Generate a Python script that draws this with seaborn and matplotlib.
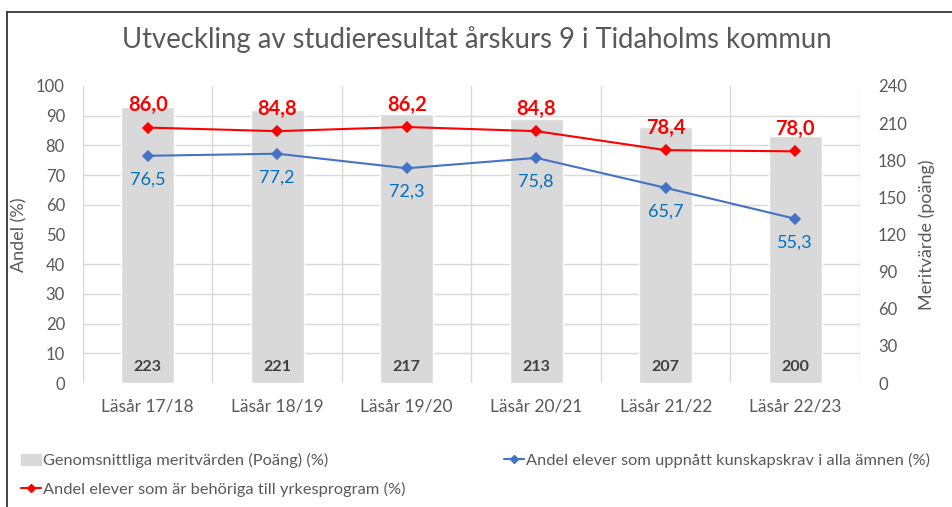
import matplotlib
matplotlib.use("Agg")
import numpy as np
import matplotlib.pyplot as plt
import seaborn as sns
from matplotlib.patches import Patch
from matplotlib.lines import Line2D

# ── Data ───────────────────────────────────────────────────
years        = ["Läsår 17/18", "Läsår 18/19", "Läsår 19/20",
                "Läsår 20/21", "Läsår 21/22", "Läsår 22/23"]
meritvarde   = [223, 221, 217, 213, 207, 200]
kunskapskrav = [76.5, 77.2, 72.3, 75.8, 65.7, 55.3]
behoriga     = [86.0, 84.8, 86.2, 84.8, 78.4, 78.0]

BAR_LABEL  = "Genomsnittliga meritvärden (Poäng) (%)"
BLUE_LABEL = "Andel elever som uppnått kunskapskrav i alla ämnen (%)"
RED_LABEL  = "Andel elever som är behöriga till yrkesprogram (%)"

# ── Style ──────────────────────────────────────────────────
sns.set_style("white")
plt.rcParams["font.family"] = ["Lato", "DejaVu Sans"]
TXT   = "#595959"
GRID  = "#D9D9D9"
BAR   = "#D9D9D9"
BLUE  = "#4472C4"
BLUE_TXT = "#0070C0"
RED   = "#FF0000"

fig = plt.figure(figsize=(9.53, 5.07), dpi=100)
ax = fig.add_axes([83 / 953, 1 - 383 / 507, 777 / 953, 297 / 507])
ax2 = ax.twinx()

# bars on the meritvärde scale (right side)
sns.barplot(x=years, y=meritvarde, ax=ax, color=BAR, width=0.41,
            saturation=1, zorder=2)
ax.set_ylim(0, 240)
ax.set_yticks(np.arange(0, 241, 30))

for i, v in enumerate(meritvarde):
    ax.annotate(str(v), xy=(i, 0), xytext=(0, 11.5), textcoords="offset points",
                ha="center", va="center", fontsize=11.5, fontweight="bold",
                color="#404040")

# lines on the percentage scale (left side)
sns.pointplot(x=years, y=behoriga, ax=ax2, color=RED, markers="D",
              markersize=5, linewidth=1.5, errorbar=None)
sns.pointplot(x=years, y=kunskapskrav, ax=ax2, color=BLUE, markers="D",
              markersize=5, linewidth=1.5, errorbar=None)
ax2.set_ylim(0, 100)
ax2.set_yticks(np.arange(0, 101, 10))

for i, v in enumerate(behoriga):
    ax2.annotate(f"{v:.1f}".replace(".", ","), xy=(i, v), xytext=(0, 16),
                 textcoords="offset points", ha="center", va="center",
                 fontsize=14.5, fontweight="bold", color=RED)
for i, v in enumerate(kunskapskrav):
    ax2.annotate(f"{v:.1f}".replace(".", ","), xy=(i, v), xytext=(0, -17),
                 textcoords="offset points", ha="center", va="center",
                 fontsize=13, color=BLUE_TXT)

# swap sides: bar scale on the right, percentage scale on the left
ax.yaxis.tick_right()
ax.yaxis.set_label_position("right")
ax2.yaxis.tick_left()
ax2.yaxis.set_label_position("left")

# grid: horizontal lines every 10 % (24 poäng), vertical at category borders
ax.set_xlim(-0.5, len(years) - 0.5)
ax.set_yticks(np.arange(0, 241, 24), minor=True)
ax.set_xticks(np.arange(-0.5, len(years), 1), minor=True)
ax.set_axisbelow(True)
ax.grid(False)
ax.grid(True, which="minor", color=GRID, linewidth=1)
ax.tick_params(which="minor", length=0)
ax2.grid(False)

for a in (ax, ax2):
    for s in a.spines.values():
        s.set_visible(False)
    a.tick_params(which="major", length=0, labelsize=12, colors=TXT)
ax.tick_params(axis="y", pad=13)
ax2.tick_params(axis="y", pad=13)
ax.tick_params(axis="x", labelsize=12.5, pad=11)

ax.set_xlabel("")
ax2.set_xlabel("")
ax.set_ylabel("Meritvärde (poäng)", fontsize=13, color=TXT, labelpad=8)
ax2.set_ylabel("Andel (%)", fontsize=13, color=TXT, labelpad=6)

fig.suptitle("Utveckling av studieresultat årskurs 9 i Tidaholms kommun",
             y=1 - 40 / 507, va="center", fontsize=19.8, color=TXT)

# ── Legend ─────────────────────────────────────────────────
handles = [
    Patch(facecolor=BAR, edgecolor=BAR),
    Line2D([], [], color=RED, marker="D", markersize=4.5, linewidth=1.5),
    Line2D([], [], color=BLUE, marker="D", markersize=4.5, linewidth=1.5),
]
labels = [BAR_LABEL, RED_LABEL, BLUE_LABEL]
fig.legend(handles, labels, ncol=2, mode="expand", frameon=False,
           bbox_to_anchor=(0.01, -0.003, 0.978, 0.15), loc="lower left",
           fontsize=11.8, labelcolor=TXT, handlelength=1.2,
           handletextpad=0.15, labelspacing=0.85, borderaxespad=0.3)

# chart frame (left and top edges are visible in the screenshot)
fig.add_artist(Line2D([7 / 953, 7 / 953], [0, 1 - 12 / 507],
                      transform=fig.transFigure, color="#262626", linewidth=1.2))
fig.add_artist(Line2D([7 / 953, 1], [1 - 12 / 507, 1 - 12 / 507],
                      transform=fig.transFigure, color="#262626", linewidth=1.2))

fig.savefig("out.png", dpi=100)
